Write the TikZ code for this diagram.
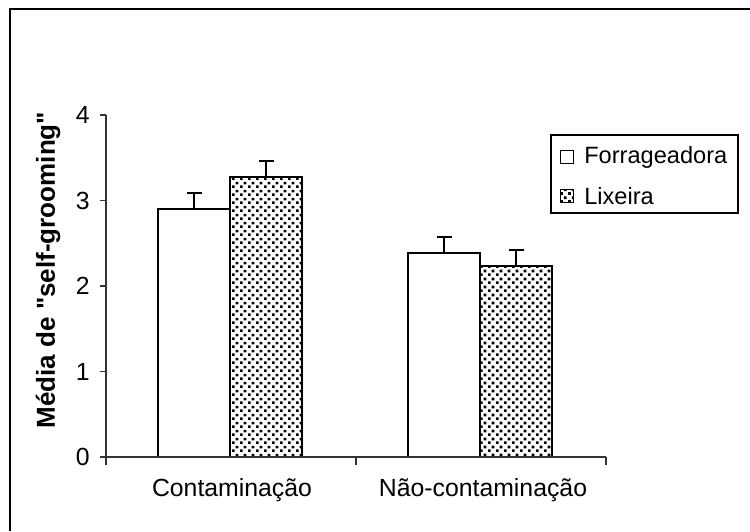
\documentclass[tikz,border=0pt]{standalone}
\usepackage{fontspec}
\setmainfont{Liberation Sans}[Ligatures=TeXOff]
\usetikzlibrary{patterns.meta, positioning}

\tikzdeclarepattern{
  name=pontos,
  type=uncolored,
  bottom left={(0pt,0pt)},
  top right={(4pt,4pt)},
  tile size={(4pt,4pt)},
  code={
    \pgfpathrectangle{\pgfpointorigin}{\pgfpoint{1.5pt}{1.5pt}}
    \pgfpathrectangle{\pgfpoint{2pt}{2pt}}{\pgfpoint{1.5pt}{1.5pt}}
    \pgfusepath{fill}
  }
}

\begin{document}
\begin{tikzpicture}[
  x=0.5pt, y=-0.5pt,
  every node/.style={font=\fontsize{12.4}{14}\selectfont},
  eixo/.style={draw=black!80, line width=0.6pt},
  barra/.style={draw=black, line width=1pt, fill=white},
  lixo/.style={draw=black, line width=1pt, preaction={fill=white}, pattern=pontos, pattern color=black},
  erro/.style={draw=black, line width=0.9pt},
  marca/.style={draw=black, line width=0.6pt, minimum size=6.3pt, inner sep=0pt},
  rotulo/.style={inner sep=0pt, font=\fontsize{11.8}{14}\selectfont}
]
\useasboundingbox (0,0) rectangle (750,531);

% Frame
\draw[line width=0.6pt] (10,531) -- (10,9) -- (750,9);

% Plot
\begin{scope}[shift={(106,457)}, y=42.75pt]
  % Bars
  \draw[barra] (52,0) rectangle (124,2.90);
  \draw[lixo] (124,0) rectangle (196,3.27);
  \draw[barra] (302,0) rectangle (374,2.39);
  \draw[lixo] (374,0) rectangle (446,2.23);

  % Error bars
  \draw[erro] (88,2.90) -- (88,3.09) (80.5,3.09) -- (95.5,3.09);
  \draw[erro] (160,3.27) -- (160,3.46) (152.5,3.46) -- (167.5,3.46);
  \draw[erro] (338,2.39) -- (338,2.57) (330.5,2.57) -- (345.5,2.57);
  \draw[erro] (410,2.23) -- (410,2.42) (402.5,2.42) -- (417.5,2.42);

  % Axes
  \draw[eixo] (0,4) -- (0,0) -- (500,0);
  \foreach \v in {0,...,4} {
    \draw[eixo] (-6,\v) -- (0,\v);
    \node[anchor=east, inner sep=0pt] (y\v) at (-16,\v) {\v};
  }
  \foreach \t in {0,250,500}
    \draw[eixo] (\t,0) -- ++(0pt,-4pt);
\end{scope}

% Labels
\node[rotate=90, font=\bfseries\fontsize{13}{15}\selectfont] (titulo) at (48,270) {Média de "self-grooming"};
\node[anchor=base] (contam) at (232,496) {Contaminação};
\node[anchor=base] (naocontam) at (483,496) {Não-contaminação};

% Legend
\draw[line width=0.6pt] (551,135) rectangle (738,213);
\node[marca] (mforr) at (567,157) {};
\node[rotulo, right=5pt of mforr] (forr) {Forrageadora};
\node[marca, pattern=pontos, pattern color=black] (mlix) at (567,196) {};
\node[rotulo, right=5pt of mlix] (lix) {Lixeira};

\end{tikzpicture}
\end{document}
